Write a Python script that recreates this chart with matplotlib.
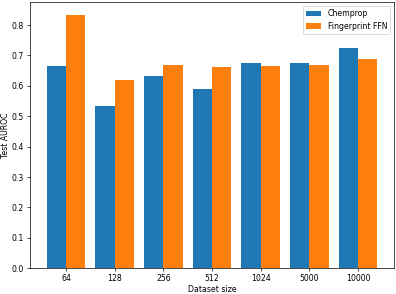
import matplotlib
matplotlib.use("Agg")
import matplotlib.pyplot as plt
import numpy as np

categories = ["64", "128", "256", "512", "1024", "5000", "10000"]
chemprop = [0.666, 0.535, 0.633, 0.589, 0.675, 0.674, 0.726]
ffn = [0.834, 0.618, 0.670, 0.661, 0.665, 0.669, 0.688]

plt.rcParams["font.size"] = 9
W, H, DPI = 396, 294, 62
fig = plt.figure(figsize=(W / DPI, H / DPI), dpi=DPI)
ax = fig.add_axes([30 / W, (H - 268.3) / H, (394 - 30) / W, (268.3 - 2) / H])

x = np.arange(len(categories))
w = 0.4
ax.bar(x - w / 2, chemprop, w, label="Chemprop", color="#1f77b4")
ax.bar(x + w / 2, ffn, w, label="Fingerprint FFN", color="#ff7f0e")
ax.set_xticks(x)
ax.set_xticklabels(categories)
ax.set_xlabel("Dataset size", labelpad=2)
ax.set_ylabel("Test AUROC", labelpad=2)
ax.legend(loc="upper right")

fig.savefig("out.png", dpi=DPI)
